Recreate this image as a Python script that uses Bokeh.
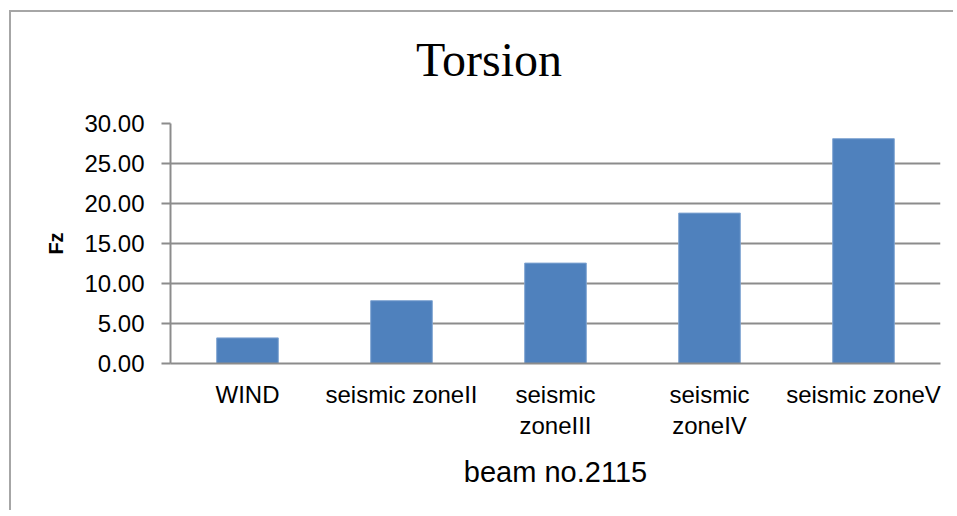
from bokeh.plotting import figure
from bokeh.layouts import column
from bokeh.models import Range1d, FactorRange, FixedTicker, PrintfTickFormatter, Div
from bokeh.embed import file_html
from bokeh.resources import INLINE

# ---- data ----
categories = ["WIND", "seismic zoneII", "seismic\nzoneIII", "seismic\nzoneIV", "seismic zoneV"]
torsion_fz = [3.2, 7.85, 12.55, 18.8, 28.1]
y_ticks = [0, 5, 10, 15, 20, 25, 30]
title_text = "Torsion"
x_title = "beam no.2115"
y_title = "Fz"

# ---- layout ----
W = 944
TITLE_H = 80
H = 420
FL, FT, FR, FB = 159, 31, 929, 271
GRID = "#8c8c8c"
FONT = "Liberation Sans"

title_div = Div(
    text=('<div style="margin:0;padding:24px 0 0 405px;'
          "font-family:'Liberation Serif';font-size:48px;line-height:48px;"
          'white-space:nowrap;color:#000;">' + title_text + '</div>'),
    width=W, height=TITLE_H, margin=(0, 0, 0, 0))

p = figure(width=W, height=H,
           x_range=FactorRange(factors=categories, range_padding=0),
           y_range=Range1d(0, 30),
           output_backend="svg", toolbar_location=None,
           min_border_left=FL, min_border_right=W - FR,
           min_border_top=FT, min_border_bottom=H - FB)
p.margin = (0, 0, 0, 0)
p.outline_line_color = None
p.background_fill_color = "white"
p.border_fill_color = "white"

p.vbar(x=categories, top=torsion_fz, width=0.4,
       fill_color="#4F81BD", line_color="#7FA4D2", line_width=1)

# grid
p.xgrid.visible = False
p.ygrid.grid_line_color = GRID
p.ygrid.grid_line_width = 2
p.ygrid.ticker = FixedTicker(ticks=y_ticks)

# y axis
p.yaxis.ticker = FixedTicker(ticks=y_ticks)
p.yaxis.formatter = PrintfTickFormatter(format="%.2f")
p.yaxis.axis_line_color = GRID
p.yaxis.axis_line_width = 2
p.yaxis.major_tick_line_color = GRID
p.yaxis.major_tick_line_width = 2
p.yaxis.major_tick_out = 9
p.yaxis.major_tick_in = 0
p.yaxis.minor_tick_line_color = None
p.yaxis.major_label_text_font = FONT
p.yaxis.major_label_text_font_size = "24px"
p.yaxis.major_label_text_color = "black"
p.yaxis.major_label_standoff = 17
p.yaxis.axis_label = y_title
p.yaxis.axis_label_text_font = FONT
p.yaxis.axis_label_text_font_size = "20px"
p.yaxis.axis_label_text_font_style = "bold"
p.yaxis.axis_label_text_color = "black"
p.yaxis.axis_label_standoff = 14

# x axis
p.xaxis.axis_line_color = GRID
p.xaxis.axis_line_width = 2
p.xaxis.major_tick_line_color = None
p.xaxis.minor_tick_line_color = None
p.xaxis.major_label_text_font = FONT
p.xaxis.major_label_text_font_size = "24px"
p.xaxis.major_label_text_color = "black"
p.xaxis.major_label_text_line_height = 1.16
p.xaxis.major_label_standoff = 11
p.xaxis.major_label_orientation = "horizontal"
p.xaxis.axis_label = x_title
p.xaxis.axis_label_text_font = FONT
p.xaxis.axis_label_text_font_size = "29px"
p.xaxis.axis_label_text_font_style = "normal"
p.xaxis.axis_label_text_color = "black"
p.xaxis.axis_label_standoff = 14

layout = column(title_div, p, spacing=0, margin=(12, 0, 0, 11),
                styles={"box-shadow": "-2px -2px 0px 0px #a6a6a6",
                        "background-color": "white"})

open("out.html", "w").write(file_html(layout, INLINE))
